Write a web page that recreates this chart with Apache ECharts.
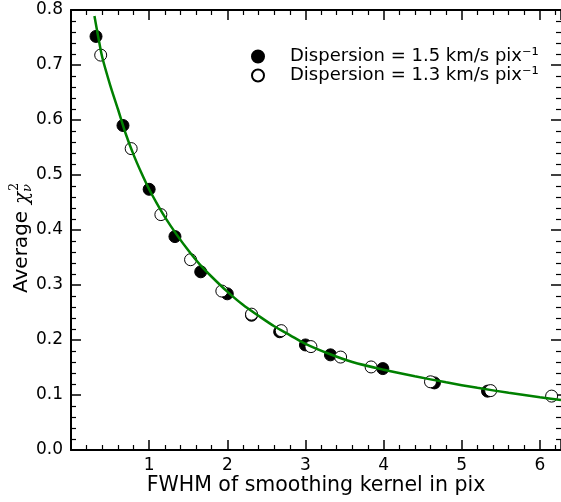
<!DOCTYPE html>
<html>
<head>
<meta charset="utf-8">
<script src="https://cdn.jsdelivr.net/npm/echarts@6/dist/echarts.min.js"></script>
<style>html,body{margin:0;padding:0;background:#fff;}#c{width:561px;height:502px;}</style>
</head>
<body>
<div id="c"></div>
<script>
// Data
var fwhm15 = [0.32, 0.665, 1.0, 1.33, 1.66, 2.0, 2.31, 2.67, 3.0, 3.32, 3.99, 4.65, 5.33];
var chi15  = [0.752, 0.590, 0.474, 0.388, 0.324, 0.284, 0.245, 0.215, 0.191, 0.173, 0.148, 0.122, 0.107];
var fwhm13 = [0.38, 0.77, 1.15, 1.53, 1.93, 2.31, 2.69, 3.07, 3.45, 3.84, 4.60, 5.37, 6.15];
var chi13  = [0.718, 0.548, 0.428, 0.346, 0.289, 0.247, 0.217, 0.188, 0.169, 0.151, 0.124, 0.108, 0.098];
var fitX = [0.3, 0.35, 0.4, 0.5, 0.6, 0.7, 0.8, 0.9, 1.0, 1.1, 1.2, 1.35, 1.5, 1.65, 1.8, 2.0, 2.2, 2.4, 2.6, 2.8, 3.0, 3.3, 3.6, 4.0, 4.4, 4.8, 5.2, 5.6, 6.0, 6.27];
var fitY = [0.789, 0.750, 0.714, 0.664, 0.620, 0.575, 0.537, 0.504, 0.474, 0.448, 0.424, 0.392, 0.363, 0.337, 0.315, 0.288, 0.264, 0.244, 0.225, 0.209, 0.193, 0.175, 0.160, 0.146, 0.134, 0.123, 0.113, 0.104, 0.096, 0.091];
var xTicks = ['1', '2', '3', '4', '5', '6'];
var yTicks = ['0.0', '0.1', '0.2', '0.3', '0.4', '0.5', '0.6', '0.7', '0.8'];
var name15 = 'Dispersion = 1.5 km/s pix\u207b\u00b9';
var name13 = 'Dispersion = 1.3 km/s pix\u207b\u00b9';

function zip(a, b) { return a.map(function (v, i) { return [v, b[i]]; }); }

var FONT = 'DejaVu Sans';
var chart = echarts.init(document.getElementById('c'), null, {renderer: 'canvas'});

function xAx(pos, showLabels) {
  return {
    type: 'value', position: pos, min: 0, max: 6.27, interval: 1,
    axisLine: {show: true, onZero: false, lineStyle: {color: '#000', width: 2}},
    axisTick: {show: true, inside: true, length: 10, lineStyle: {color: '#000', width: 1.5}},
    minorTick: {show: true, splitNumber: 5, length: 5, lineStyle: {color: '#000', width: 1.2}},
    splitLine: {show: false},
    axisLabel: {
      show: showLabels, color: '#000', fontFamily: FONT, fontSize: 17, margin: 7,
      showMaxLabel: false, showMinLabel: false,
      formatter: function (v) { var i = Math.round(v); return (i >= 1 && i <= 6 && Math.abs(v - i) < 1e-6) ? xTicks[i - 1] : ''; }
    },
    name: showLabels ? 'FWHM of smoothing kernel in pix' : '',
    nameLocation: 'middle', nameGap: 25, nameMoveOverlap: false,
    nameTextStyle: {color: '#000', fontFamily: FONT, fontSize: 20.5, verticalAlign: 'top'}
  };
}
function yAx(pos, showLabels, showLine) {
  return {
    type: 'value', position: pos, min: 0, max: 0.8, interval: 0.1,
    axisLine: {show: showLine, onZero: false, lineStyle: {color: '#000', width: 2}},
    axisTick: {show: true, inside: true, length: 10, lineStyle: {color: '#000', width: 1.5}},
    minorTick: {show: true, splitNumber: 5, length: 5, lineStyle: {color: '#000', width: 1.2}},
    splitLine: {show: false},
    axisLabel: {
      show: showLabels, color: '#000', fontFamily: FONT, fontSize: 17, margin: 8,
      formatter: function (v) { var i = Math.round(v * 10); return yTicks[i]; }
    }
  };
}

var option = {
  backgroundColor: '#fff',
  animation: false,
  grid: {left: 71, right: 0, top: 10, bottom: 52, containLabel: false, outerBoundsMode: 'none'},
  xAxis: [xAx('bottom', true), xAx('top', false)],
  yAxis: [yAx('left', true, true), yAx('right', false, false)],
  legend: {
    data: [name15, name13],
    orient: 'vertical', left: 246, top: 42, padding: 5,
    itemWidth: 12, itemHeight: 12, itemGap: 0,
    icon: 'circle',
    textStyle: {
      color: '#000', fontFamily: FONT, fontSize: 18, lineHeight: 19, padding: [0, 0, 0, 21]
    }
  },
  series: [
    {
      name: name15, type: 'scatter', xAxisIndex: 0, yAxisIndex: 0,
      data: zip(fwhm15, chi15), symbol: 'circle', symbolSize: 12,
      itemStyle: {color: '#000', borderColor: '#000', borderWidth: 1, opacity: 1}, z: 2
    },
    {
      name: name13, type: 'scatter', xAxisIndex: 0, yAxisIndex: 0,
      data: zip(fwhm13, chi13), symbol: 'circle', symbolSize: 12,
      itemStyle: {color: '#fff', borderColor: '#000', borderWidth: 1, opacity: 1}, z: 3
    },
    {
      name: 'fit', type: 'line', xAxisIndex: 0, yAxisIndex: 0,
      data: zip(fitX, fitY), showSymbol: false, symbol: 'none', smooth: 0.3,
      lineStyle: {color: '#008000', width: 2.5}, z: 4, silent: true
    }
  ],
  graphic: [{
    type: 'group', x: 22, y: 293, rotation: Math.PI / 2,
    children: [
      {type: 'text', x: 0, y: 0, style: {text: 'Average ', font: '20px "DejaVu Sans"', fill: '#000', textAlign: 'left', textVerticalAlign: 'middle'}},
      {type: 'text', x: 89, y: 1, style: {text: '\u03c7', font: 'italic 20px "DejaVu Serif"', fill: '#000', textAlign: 'left', textVerticalAlign: 'middle'}},
      {type: 'text', x: 102, y: -7, style: {text: '2', font: '13px "DejaVu Serif"', fill: '#000', textAlign: 'left', textVerticalAlign: 'middle'}},
      {type: 'text', x: 101, y: 6, style: {text: '\u03bd', font: 'italic 13px "DejaVu Serif"', fill: '#000', textAlign: 'left', textVerticalAlign: 'middle'}}
    ]
  }]
};
chart.setOption(option);
</script>
</body>
</html>
